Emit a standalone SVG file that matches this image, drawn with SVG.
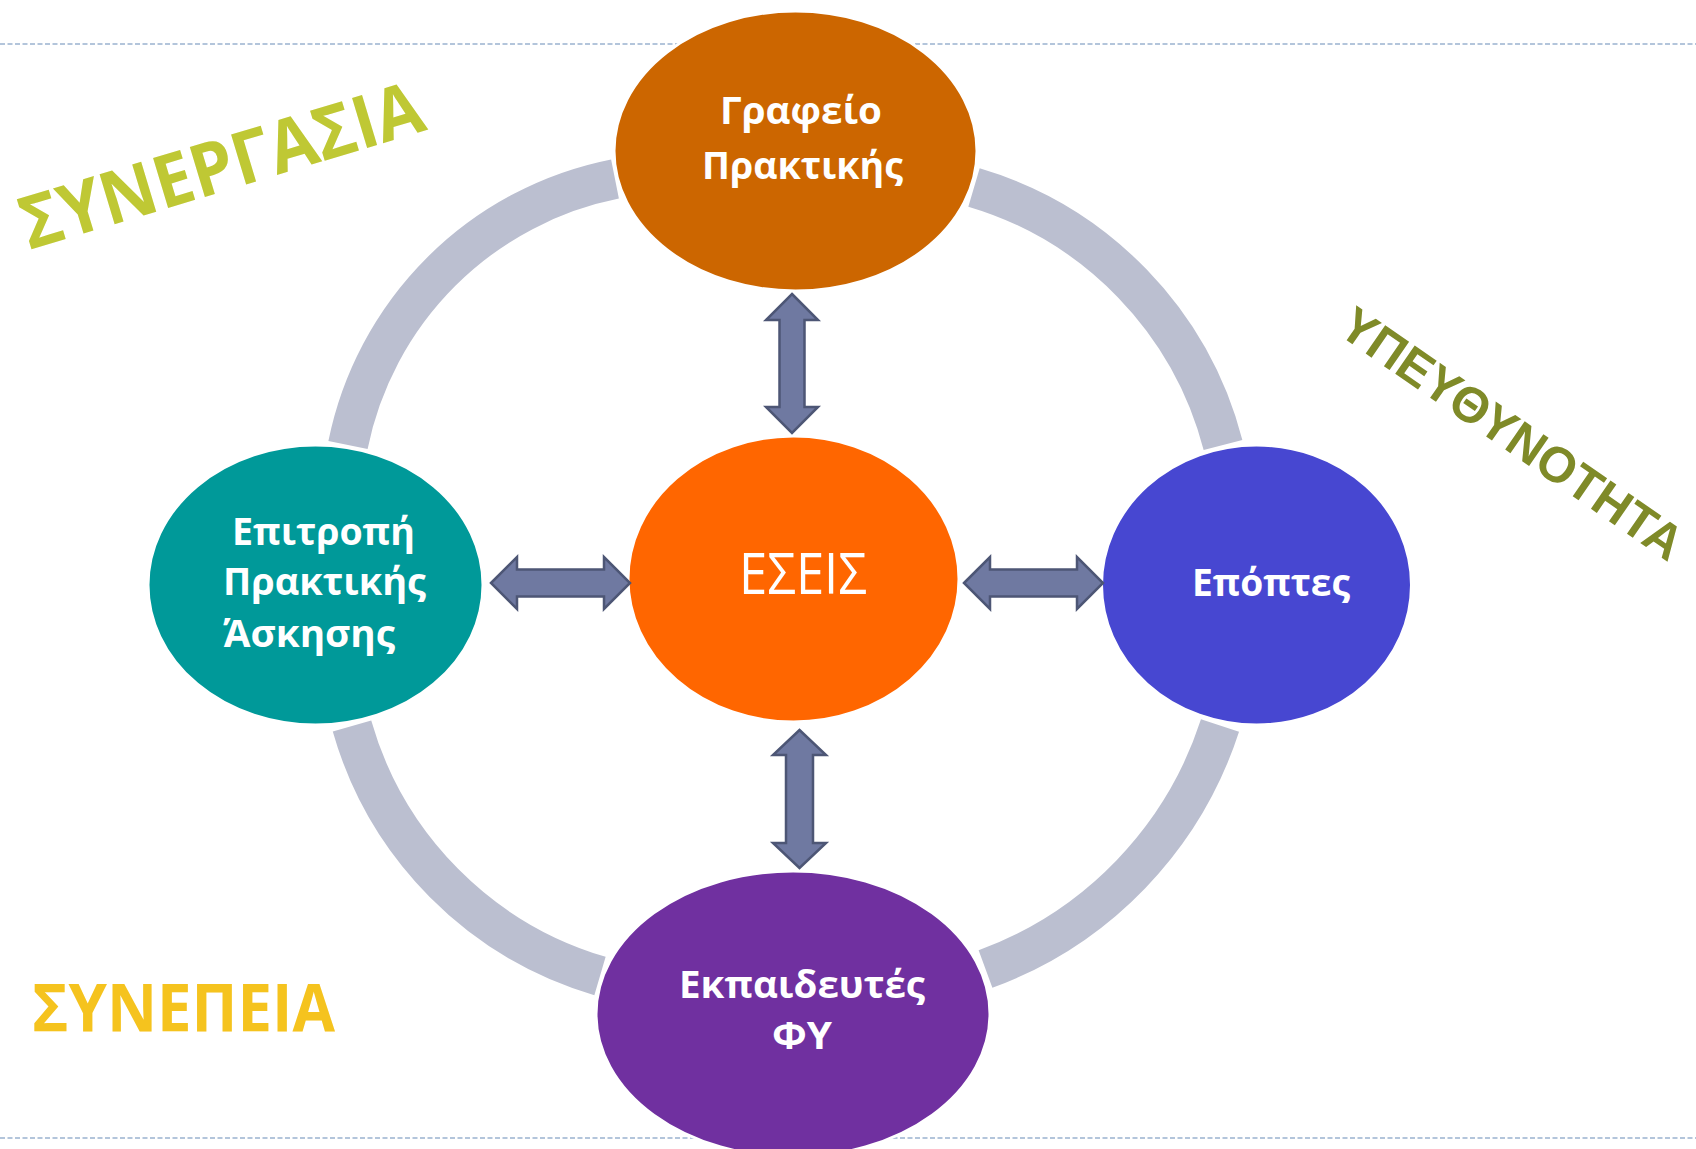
<svg xmlns="http://www.w3.org/2000/svg" width="1696" height="1149" viewBox="0 0 1696 1149">
<style>
.bg{fill:#ffffff}
.dash{stroke:#9AB3CF;stroke-width:1.5;stroke-dasharray:5 2.5;fill:none}
.ring{fill:none;stroke:#BBBFD0;stroke-width:40;stroke-linecap:butt}
.node{stroke:#ffffff;stroke-width:3}
.arrow{fill:#6F79A1;stroke:#4D5675;stroke-width:2.5;stroke-linejoin:miter}
.lbl{font-family:"Open Sans","Liberation Sans",sans-serif;font-weight:bold;font-size:38px;fill:#ffffff;text-anchor:middle}
.big{font-family:"Open Sans","Liberation Sans",sans-serif;font-weight:bold}
</style>
<rect class="bg" x="0" y="0" width="1696" height="1149"/>
<g id="guides">
<line class="dash" x1="0" y1="44" x2="1696" y2="44"/>
<line class="dash" x1="0" y1="1138" x2="1696" y2="1138"/>
</g>
<g id="connectors">
<path class="ring" d="M615 179 A340 340 0 0 0 348 445"/>
<path class="ring" d="M974 187.5 A364 364 0 0 1 1223 445"/>
<path class="ring" d="M352 726 A365 365 0 0 0 600 976"/>
<path class="ring" d="M1220 725.5 A386 386 0 0 1 985.5 969"/>
</g>
<g id="node-grafeio">
<ellipse class="node" cx="795.5" cy="151" rx="181.5" ry="140" fill="#CC6600"/>
<text class="lbl" x="801" y="124" textLength="162" lengthAdjust="spacingAndGlyphs">Γραφείο</text>
<text class="lbl" x="802.5" y="179" textLength="201" lengthAdjust="spacingAndGlyphs">Πρακτικής</text>
</g>
<g id="node-epitropi">
<ellipse class="node" cx="315.5" cy="585" rx="167.5" ry="140" fill="#009999"/>
<text class="lbl" x="323.5" y="545" textLength="183" lengthAdjust="spacingAndGlyphs">Επιτροπή</text>
<text class="lbl" x="324.5" y="595" textLength="203" lengthAdjust="spacingAndGlyphs">Πρακτικής</text>
<text class="lbl" x="223" y="647" style="text-anchor:start" textLength="172" lengthAdjust="spacingAndGlyphs">Άσκησης</text>
</g>
<g id="node-epoptes">
<ellipse class="node" cx="1256.5" cy="585" rx="155" ry="140" fill="#4747D1"/>
<text class="lbl" x="1271" y="596" textLength="158" lengthAdjust="spacingAndGlyphs">Επόπτες</text>
</g>
<g id="node-ekpaideutes">
<ellipse class="node" cx="793" cy="1014" rx="197" ry="143" fill="#7030A0"/>
<text class="lbl" x="802" y="998" textLength="246" lengthAdjust="spacingAndGlyphs">Εκπαιδευτές</text>
<text class="lbl" x="802" y="1049" textLength="60" lengthAdjust="spacingAndGlyphs">ΦΥ</text>
</g>
<g id="node-eseis">
<ellipse class="node" cx="793.5" cy="579" rx="165.5" ry="143" fill="#FF6600"/>
<text x="803" y="594" font-family="'Open Sans','Liberation Sans',sans-serif" font-size="56" fill="#ffffff" text-anchor="middle" textLength="128" lengthAdjust="spacingAndGlyphs">ΕΣΕΙΣ</text>
</g>
<g id="arrows">
<polygon class="arrow" points="792,294 818,320 804.5,320 804.5,407 818,407 792,433 766,407 779.5,407 779.5,320 766,320"/>
<polygon class="arrow" points="799.5,730 826,755 813,755 813,843 826,843 799.5,868 773,843 786,843 786,755 773,755"/>
<polygon class="arrow" points="491,583 517,557 517,569.5 604,569.5 604,557 630,583 604,609 604,596.5 517,596.5 517,609"/>
<polygon class="arrow" points="964,583 990,557 990,569.5 1077,569.5 1077,557 1103,583 1077,609 1077,596.5 990,596.5 990,609"/>
</g>
<g id="label-synergasia">
<text class="big" x="29" y="250" font-size="73" fill="#BFC834" transform="rotate(-16.8 29 250)" textLength="417" lengthAdjust="spacingAndGlyphs">ΣΥΝΕΡΓΑΣΙΑ</text>
</g>
<g id="label-ypeuthynotita">
<text x="1336" y="333" font-family="'Liberation Sans',Arial,sans-serif" font-weight="bold" font-size="50" fill="#7F8A28" transform="rotate(34.6 1336 333)" textLength="404" lengthAdjust="spacingAndGlyphs">ΥΠΕΥΘΥΝΟΤΗΤΑ</text>
</g>
<g id="label-synepeia">
<text class="big" x="32" y="1032" font-size="66" fill="#F5C31E" textLength="303" lengthAdjust="spacingAndGlyphs">ΣΥΝΕΠΕΙΑ</text>
</g>
</svg>
